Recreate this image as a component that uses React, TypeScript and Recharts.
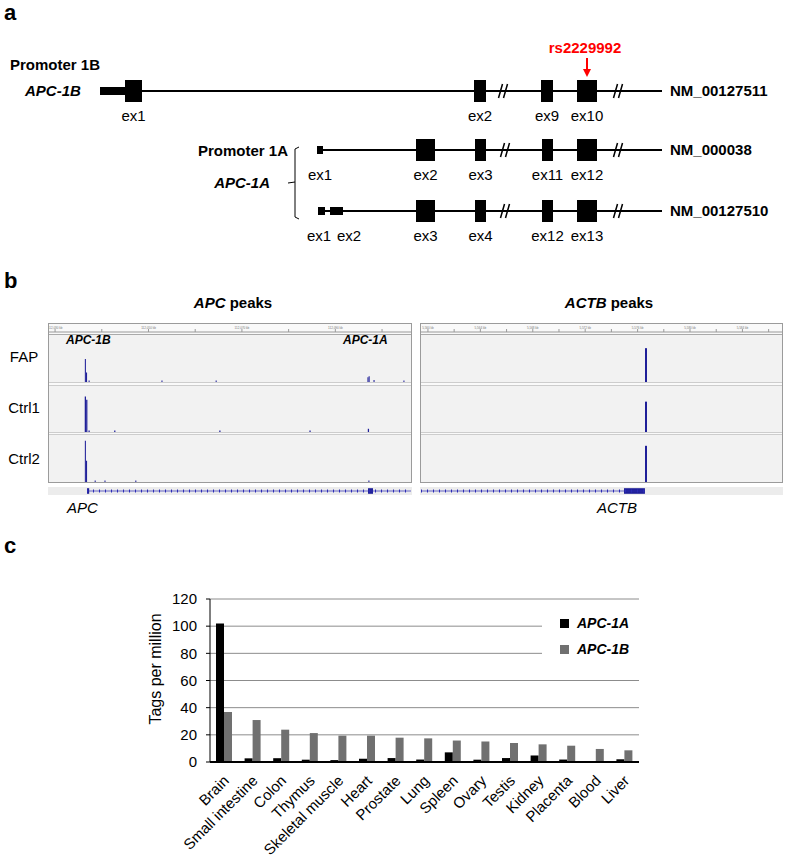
import type { CSSProperties, ReactNode } from "react";
import {
  Bar,
  BarChart,
  CartesianGrid,
  ComposedChart,
  Legend,
  ReferenceArea,
  ReferenceDot,
  ReferenceLine,
  XAxis,
  YAxis,
} from "recharts";

const FONT = "'Liberation Sans', Arial, Helvetica, sans-serif";

// ---------- panel a: transcript models (diagram units) ----------
type Exon = { from: number; to: number; kind: "utr" | "cds"; label: string; labelAt?: number };

const exons1B: Exon[] = [
  { from: 100, to: 125, kind: "utr", label: "" },
  { from: 125, to: 142, kind: "cds", label: "ex1" },
  { from: 474, to: 486, kind: "cds", label: "ex2" },
  { from: 541, to: 553, kind: "cds", label: "ex9" },
  { from: 577, to: 597, kind: "cds", label: "ex10" },
];
const exons038: Exon[] = [
  { from: 317, to: 323, kind: "utr", label: "ex1" },
  { from: 416, to: 435, kind: "cds", label: "ex2" },
  { from: 475, to: 486, kind: "cds", label: "ex3" },
  { from: 542, to: 553, kind: "cds", label: "ex11" },
  { from: 577, to: 597, kind: "cds", label: "ex12" },
];
const exons510: Exon[] = [
  { from: 318, to: 325, kind: "utr", label: "ex1", labelAt: 319 },
  { from: 330, to: 343, kind: "utr", label: "ex2", labelAt: 349 },
  { from: 416, to: 435, kind: "cds", label: "ex3" },
  { from: 475, to: 486, kind: "cds", label: "ex4" },
  { from: 542, to: 553, kind: "cds", label: "ex12" },
  { from: 577, to: 597, kind: "cds", label: "ex13" },
];
const transcriptIds = ["NM_00127511", "NM_000038", "NM_00127510"];
const transcriptSpans = [
  [100, 662],
  [317, 662],
  [318, 662],
];
const transcriptBreaks = [
  [503, 618],
  [505, 618],
  [505, 618],
];
const snpId = "rs2229992";
const snpPos = 587;

// ---------- panel b: read peaks (kb) ----------
type Peak = { pos: number; h: number };
const apcWindow: [number, number] = [112028.7, 112106.2];
const actbWindow: [number, number] = [5559.47, 5587.02];
const apcRulerTicks = [112030, 112040, 112050, 112060, 112070, 112080, 112090, 112100];
const actbRulerTicks = [5560, 5562, 5564, 5566, 5568, 5570, 5572, 5574, 5576, 5578, 5580, 5582, 5584, 5586];
const sampleNames = ["FAP", "Ctrl1", "Ctrl2"];

const apcFap: Peak[] = [
  { pos: 112036.5, h: 0.49 },
  { pos: 112036.75, h: 0.2 },
  { pos: 112037.3, h: 0.03 },
  { pos: 112052.9, h: 0.03 },
  { pos: 112064.5, h: 0.03 },
  { pos: 112097.0, h: 0.1 },
  { pos: 112097.25, h: 0.12 },
  { pos: 112098.3, h: 0.04 },
  { pos: 112104.7, h: 0.03 },
];
const apcCtrl1: Peak[] = [
  { pos: 112036.5, h: 0.77 },
  { pos: 112036.8, h: 0.7 },
  { pos: 112037.3, h: 0.03 },
  { pos: 112042.8, h: 0.03 },
  { pos: 112065.3, h: 0.03 },
  { pos: 112084.6, h: 0.03 },
  { pos: 112097.1, h: 0.07 },
];
const apcCtrl2: Peak[] = [
  { pos: 112036.5, h: 0.88 },
  { pos: 112036.75, h: 0.45 },
  { pos: 112038.6, h: 0.03 },
  { pos: 112040.7, h: 0.03 },
  { pos: 112047.3, h: 0.03 },
  { pos: 112097.2, h: 0.03 },
];
const actbFap: Peak[] = [{ pos: 5576.64, h: 0.72 }];
const actbCtrl1: Peak[] = [{ pos: 5576.64, h: 0.66 }];
const actbCtrl2: Peak[] = [{ pos: 5576.64, h: 0.77 }];

const apcGeneSpan = [112036.84, 112106.2];
const apcGeneBlocks = [
  [112036.84, 112037.3],
  [112097.0, 112098.07],
];
const actbGeneSpan = [5559.47, 5576.56];
const actbGeneBlocks = [[5574.96, 5576.56]];

// ---------- panel c: tags per million ----------
const tissues = [
  "Brain",
  "Small intestine",
  "Colon",
  "Thymus",
  "Skeletal muscle",
  "Heart",
  "Prostate",
  "Lung",
  "Spleen",
  "Ovary",
  "Testis",
  "Kidney",
  "Placenta",
  "Blood",
  "Liver",
];
const apc1A = [102, 2.7, 2.8, 1.7, 1.4, 2.4, 2.9, 1.8, 7.1, 1.7, 2.9, 4.8, 1.8, 0, 2.0];
const apc1B = [36.8, 30.9, 23.8, 21.3, 19.4, 19.4, 17.9, 17.4, 15.8, 15.1, 14.0, 13.0, 12.0, 9.6, 8.6];
const yTicks = [0, 20, 40, 60, 80, 100, 120];

const PEAK = "#1f1f99";
const GENE = "#2b2bb5";
const NO_MARGIN = { top: 0, right: 0, bottom: 0, left: 0 };

function Txt({
  x,
  y,
  children,
  anchor = "middle",
  style,
}: {
  x: number;
  y: number;
  children: ReactNode;
  anchor?: "start" | "middle" | "end";
  style?: CSSProperties;
}) {
  const tx = anchor === "start" ? "0" : anchor === "end" ? "-100%" : "-50%";
  return (
    <div
      style={{
        position: "absolute",
        left: x,
        top: y,
        transform: `translate(${tx}, -50%)`,
        whiteSpace: "nowrap",
        lineHeight: 1.2,
        fontSize: 15,
        color: "#000",
        ...style,
      }}
    >
      {children}
    </div>
  );
}

const bold: CSSProperties = { fontWeight: 700 };
const boldItalic: CSSProperties = { fontWeight: 700, fontStyle: "italic" };

function GeneModels() {
  const rows = [exons1B, exons038, exons510];
  const rowY = [91, 150, 211];
  const half = { utr: 4, cds: 11 };
  return (
    <div style={{ position: "absolute", left: 0, top: 0 }}>
      <ComposedChart width={787} height={250} data={[{ x: 0, y: 0 }]} margin={NO_MARGIN}>
        <XAxis type="number" dataKey="x" domain={[0, 787]} hide allowDataOverflow />
        <YAxis type="number" dataKey="y" domain={[0, 250]} reversed hide allowDataOverflow />
        {rows.map((_, i) => (
          <ReferenceLine
            key={`l${i}`}
            segment={[
              { x: transcriptSpans[i][0], y: rowY[i] },
              { x: transcriptSpans[i][1], y: rowY[i] },
            ]}
            stroke="#000"
            strokeWidth={2}
            ifOverflow="visible"
          />
        ))}
        {rows.map((exs, i) =>
          exs.map((e, j) => (
            <ReferenceArea
              key={`e${i}-${j}`}
              x1={e.from}
              x2={e.to}
              y1={rowY[i] - half[e.kind]}
              y2={rowY[i] + half[e.kind]}
              fill="#000"
              fillOpacity={1}
              stroke="none"
              ifOverflow="visible"
            />
          )),
        )}
        {transcriptBreaks.map((bs, i) =>
          bs.map((b, j) => [
            <ReferenceArea
              key={`g${i}-${j}`}
              x1={b - 2}
              x2={b + 2}
              y1={rowY[i] - 1.5}
              y2={rowY[i] + 1.5}
              fill="#fff"
              fillOpacity={1}
              stroke="none"
              ifOverflow="visible"
            />,
            <ReferenceLine
              key={`s${i}-${j}a`}
              segment={[
                { x: b - 4.5, y: rowY[i] + 7 },
                { x: b - 0.5, y: rowY[i] - 7 },
              ]}
              stroke="#000"
              strokeWidth={1.5}
              ifOverflow="visible"
            />,
            <ReferenceLine
              key={`s${i}-${j}b`}
              segment={[
                { x: b + 0.5, y: rowY[i] + 7 },
                { x: b + 4.5, y: rowY[i] - 7 },
              ]}
              stroke="#000"
              strokeWidth={1.5}
              ifOverflow="visible"
            />,
          ]),
        )}
        {/* bracket joining the two APC-1A transcripts */}
        <ReferenceLine segment={[{ x: 299, y: 147 }, { x: 295, y: 149 }]} stroke="#000" ifOverflow="visible" />
        <ReferenceLine segment={[{ x: 295, y: 149 }, { x: 295, y: 217 }]} stroke="#000" ifOverflow="visible" />
        <ReferenceLine segment={[{ x: 295, y: 217 }, { x: 299, y: 219 }]} stroke="#000" ifOverflow="visible" />
        <ReferenceLine segment={[{ x: 295, y: 182 }, { x: 288, y: 183 }]} stroke="#000" ifOverflow="visible" />
        {/* SNP arrow */}
        <ReferenceLine
          segment={[
            { x: snpPos, y: 58 },
            { x: snpPos, y: 72 },
          ]}
          stroke="#f00"
          strokeWidth={2}
          ifOverflow="visible"
        />
        <ReferenceDot
          x={snpPos}
          y={74}
          ifOverflow="visible"
          shape={(p: { cx?: number; cy?: number }) => {
            const cx = p.cx ?? 0;
            const cy = p.cy ?? 0;
            return <polygon points={`${cx - 4},${cy - 5} ${cx + 4},${cy - 5} ${cx},${cy + 3}`} fill="#f00" />;
          }}
        />
      </ComposedChart>
      {rows.map((exs, i) =>
        exs
          .filter((e) => e.label)
          .map((e, j) => (
            <Txt key={`t${i}-${j}`} x={e.labelAt ?? (e.from + e.to) / 2} y={rowY[i] + 25}>
              {e.label}
            </Txt>
          )),
      )}
      {transcriptIds.map((id, i) => (
        <Txt key={id} x={670} y={rowY[i]} anchor="start" style={bold}>
          {id}
        </Txt>
      ))}
      <Txt x={585} y={48} style={{ ...bold, color: "#f00" }}>
        {snpId}
      </Txt>
      <Txt x={10} y={65} anchor="start" style={bold}>
        Promoter 1B
      </Txt>
      <Txt x={25} y={91} anchor="start" style={boldItalic}>
        APC-1B
      </Txt>
      <Txt x={288} y={151} anchor="end" style={bold}>
        Promoter 1A
      </Txt>
      <Txt x={270} y={183} anchor="end" style={boldItalic}>
        APC-1A
      </Txt>
    </div>
  );
}

function Ruler({ ticks, domain, width }: { ticks: number[]; domain: [number, number]; width: number }) {
  return (
    <ComposedChart width={width} height={9} data={[{ pos: domain[0] }]} margin={NO_MARGIN}>
      <XAxis
        type="number"
        dataKey="pos"
        orientation="top"
        domain={domain}
        ticks={ticks}
        interval={0}
        height={8}
        allowDataOverflow
        tickSize={3}
        tickMargin={0}
        stroke="#999"
        tick={{ fontSize: 3, fill: "#777", fontFamily: FONT }}
        tickFormatter={(v: number, i: number) => (i % 2 === 0 ? `${v.toLocaleString("en-US")} kb` : "")}
      />
      <YAxis type="number" domain={[0, 1]} hide />
    </ComposedChart>
  );
}

function PeakTrack({ peaks, domain, width, height }: { peaks: Peak[]; domain: [number, number]; width: number; height: number }) {
  return (
    <ComposedChart width={width} height={height} data={peaks} margin={NO_MARGIN}>
      <XAxis type="number" dataKey="pos" domain={domain} hide allowDataOverflow />
      <YAxis type="number" domain={[0, 1]} hide allowDataOverflow />
      <Bar dataKey="h" fill={PEAK} barSize={2} isAnimationActive={false} />
    </ComposedChart>
  );
}

function GeneTrack({ span, blocks, domain, width }: { span: number[]; blocks: number[][]; domain: [number, number]; width: number }) {
  return (
    <ComposedChart width={width} height={8} data={[{ pos: domain[0] }]} margin={NO_MARGIN}>
      <XAxis type="number" dataKey="pos" domain={domain} hide allowDataOverflow />
      <YAxis type="number" domain={[0, 1]} hide allowDataOverflow />
      <ReferenceLine segment={[{ x: span[0], y: 0.5 }, { x: span[1], y: 0.5 }]} stroke={GENE} strokeOpacity={0.7} ifOverflow="hidden" />
      <ReferenceLine
        segment={[{ x: span[0], y: 0.5 }, { x: span[1], y: 0.5 }]}
        stroke={GENE}
        strokeWidth={3}
        strokeDasharray="1 5"
        ifOverflow="hidden"
      />
      {blocks.map((b, i) => (
        <ReferenceArea key={i} x1={b[0]} x2={b[1]} y1={0.15} y2={0.85} fill={PEAK} fillOpacity={1} stroke="none" ifOverflow="hidden" />
      ))}
    </ComposedChart>
  );
}

function BrowserBox({
  left,
  width,
  domain,
  ticks,
  tracks,
}: {
  left: number;
  width: number;
  domain: [number, number];
  ticks: number[];
  tracks: Peak[][];
}) {
  const trackTop = [11, 62, 111];
  const trackH = [47, 46, 47];
  return (
    <div
      style={{
        position: "absolute",
        left,
        top: 323,
        width,
        height: 158,
        border: "1px solid #9b9b9b",
        background: "#f2f2f2",
      }}
    >
      <div style={{ position: "absolute", left: 0, top: 0, width, height: 10, background: "#f9f9f9" }}>
        <Ruler ticks={ticks} domain={domain} width={width} />
      </div>
      <div style={{ position: "absolute", left: 0, top: 10, width, height: 1, background: "#aaa" }} />
      {[58, 61, 108, 110].map((t) => (
        <div key={t} style={{ position: "absolute", left: 0, top: t, width, height: 1, background: "#cdcdcd" }} />
      ))}
      <div style={{ position: "absolute", left: 0, top: 59, width, height: 2, background: "#fafafa" }} />
      <div style={{ position: "absolute", left: 0, top: 109, width, height: 1, background: "#fafafa" }} />
      {tracks.map((p, i) => (
        <div key={i} style={{ position: "absolute", left: 0, top: trackTop[i] }}>
          <PeakTrack peaks={p} domain={domain} width={width} height={trackH[i]} />
        </div>
      ))}
    </div>
  );
}

function PeakPanels() {
  const labelY = [357, 408, 459];
  return (
    <>
      <Txt x={233} y={303} style={bold}>
        <i>APC</i> peaks
      </Txt>
      <Txt x={609} y={303} style={bold}>
        <i>ACTB</i> peaks
      </Txt>
      <BrowserBox left={48} width={362} domain={apcWindow} ticks={apcRulerTicks} tracks={[apcFap, apcCtrl1, apcCtrl2]} />
      <BrowserBox left={420} width={361} domain={actbWindow} ticks={actbRulerTicks} tracks={[actbFap, actbCtrl1, actbCtrl2]} />
      {sampleNames.map((s, i) => (
        <Txt key={s} x={24} y={labelY[i]}>
          {s}
        </Txt>
      ))}
      <Txt x={66} y={340} anchor="start" style={{ ...boldItalic, fontSize: 12 }}>
        APC-1B
      </Txt>
      <Txt x={343} y={340} anchor="start" style={{ ...boldItalic, fontSize: 12 }}>
        APC-1A
      </Txt>
      <div style={{ position: "absolute", left: 48, top: 487, width: 364, height: 8, background: "#ececec" }} />
      <div style={{ position: "absolute", left: 420, top: 487, width: 363, height: 8, background: "#ececec" }} />
      <div style={{ position: "absolute", left: 49, top: 487 }}>
        <GeneTrack span={apcGeneSpan} blocks={apcGeneBlocks} domain={apcWindow} width={362} />
      </div>
      <div style={{ position: "absolute", left: 421, top: 487 }}>
        <GeneTrack span={actbGeneSpan} blocks={actbGeneBlocks} domain={actbWindow} width={361} />
      </div>
      <Txt x={67} y={508} anchor="start" style={{ fontStyle: "italic" }}>
        APC
      </Txt>
      <Txt x={597} y={508} anchor="start" style={{ fontStyle: "italic" }}>
        ACTB
      </Txt>
    </>
  );
}

function TissueTick(props: { x?: number; y?: number; payload?: { value: string } }) {
  const x = (props.x ?? 0) + 2;
  const y = (props.y ?? 0) + 14;
  return (
    <text
      x={x}
      y={y}
      dy="0.35em"
      transform={`rotate(-45, ${x}, ${y})`}
      textAnchor="end"
      fontSize={15}
      fontFamily={FONT}
      fill="#000"
    >
      {props.payload?.value}
    </text>
  );
}

function LegendBox(props: { payload?: { value: string; color?: string }[] }) {
  return (
    <div style={{ background: "#fff", width: 110, height: 52, fontFamily: FONT }}>
      {(props.payload ?? []).map((p) => (
        <div key={p.value} style={{ height: 26, display: "flex", alignItems: "center" }}>
          <span style={{ display: "inline-block", width: 9, height: 9, marginLeft: 18, background: p.color }} />
          <span style={{ marginLeft: 8, fontSize: 14, fontWeight: 700, fontStyle: "italic", color: "#000" }}>{p.value}</span>
        </div>
      ))}
    </div>
  );
}

function TagsChart() {
  const data = tissues.map((t, i) => ({ tissue: t, a: apc1A[i], b: apc1B[i] }));
  return (
    <div style={{ position: "absolute", left: 0, top: 560 }}>
      <BarChart
        width={787}
        height={298}
        data={data}
        margin={{ top: 39, right: 148, bottom: 6, left: 0 }}
        barGap={0}
        barCategoryGap="22%"
        style={{ overflow: "visible" }}
      >
        <CartesianGrid vertical={false} stroke="#8c8c8c" />
        <XAxis
          dataKey="tissue"
          interval={0}
          height={90}
          tickLine={false}
          tickSize={0}
          tick={<TissueTick />}
          axisLine={{ stroke: "#000", strokeWidth: 2 }}
        />
        <YAxis
          width={210}
          domain={[0, 120]}
          ticks={yTicks}
          interval={0}
          tickSize={4}
          tickMargin={9}
          axisLine={{ stroke: "#000" }}
          tickLine={{ stroke: "#000" }}
          tick={{ fontSize: 15, fill: "#000", fontFamily: FONT }}
        />
        <Legend
          layout="vertical"
          align="center"
          verticalAlign="middle"
          wrapperStyle={{ left: 542, top: 50, width: 110 }}
          content={<LegendBox />}
        />
        <Bar dataKey="a" name="APC-1A" fill="#000" barSize={8} isAnimationActive={false} />
        <Bar dataKey="b" name="APC-1B" fill="#707070" barSize={8} isAnimationActive={false} />
      </BarChart>
      <div
        style={{
          position: "absolute",
          left: 156,
          top: 109,
          transform: "translate(-50%, -50%) rotate(-90deg)",
          whiteSpace: "nowrap",
          fontSize: 16,
          lineHeight: 1,
          color: "#000",
        }}
      >
        Tags per million
      </div>
    </div>
  );
}

export default function App() {
  return (
    <div
      style={{
        position: "relative",
        width: 787,
        height: 858,
        background: "#fff",
        fontFamily: FONT,
        overflow: "hidden",
      }}
    >
      <style>{"body{margin:0}"}</style>
      <Txt x={4} y={13} anchor="start" style={{ ...bold, fontSize: 22 }}>
        a
      </Txt>
      <Txt x={4} y={281} anchor="start" style={{ ...bold, fontSize: 22 }}>
        b
      </Txt>
      <Txt x={4} y={546} anchor="start" style={{ ...bold, fontSize: 22 }}>
        c
      </Txt>
      <GeneModels />
      <PeakPanels />
      <TagsChart />
    </div>
  );
}
